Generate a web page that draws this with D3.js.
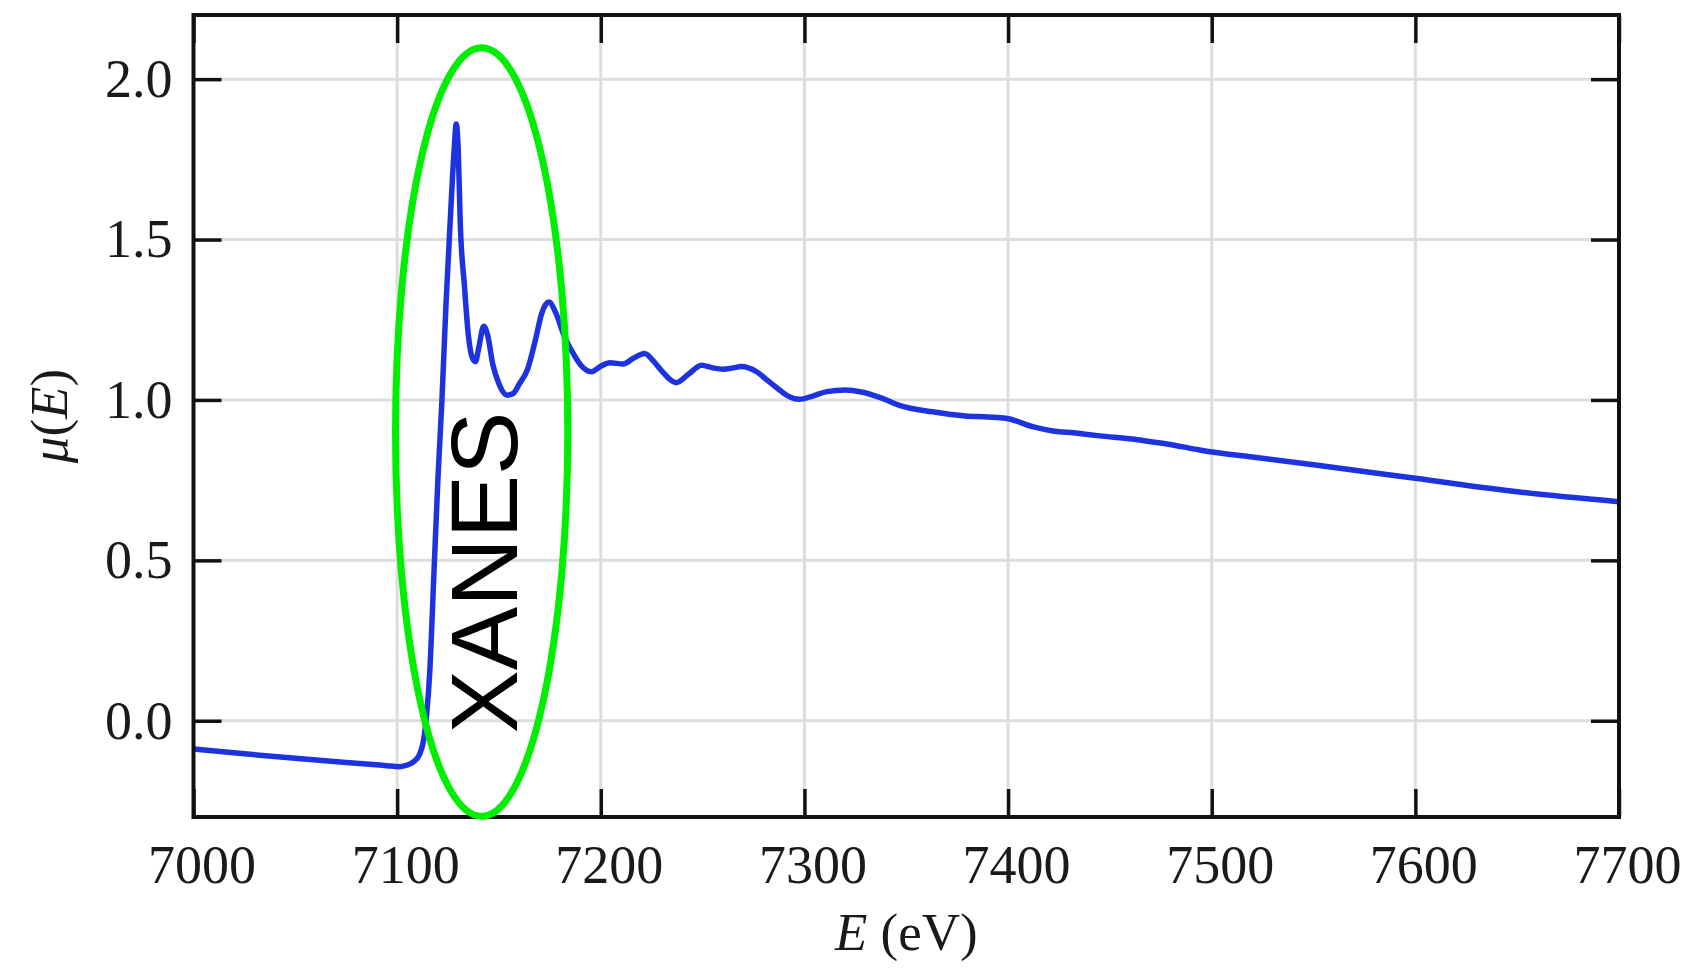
<!DOCTYPE html>
<html>
<head>
<meta charset="utf-8">
<script src="https://cdn.jsdelivr.net/npm/d3@7"></script>
<style>
  body { margin: 0; background: #fff; }
  svg { display: block; }
</style>
</head>
<body>
<div id="chart"></div>
<script>
'use strict';

// spectrum: energy (eV) and absorption mu(E)
const energy = [7000, 7025, 7050, 7075, 7095, 7101, 7105, 7108, 7111, 7113, 7114.5, 7116, 7118, 7120, 7122, 7124, 7126, 7128, 7129, 7130, 7131, 7133, 7135, 7137, 7138.5, 7140, 7142.5, 7144.5, 7147, 7150, 7154, 7157, 7160, 7164, 7168, 7171, 7174.5, 7178, 7182, 7186, 7190, 7195.5, 7200, 7204.5, 7211, 7216, 7221.5, 7226, 7230, 7237, 7243, 7249.5, 7255, 7260, 7265, 7269, 7276.5, 7282, 7287, 7292, 7297.5, 7304, 7311, 7320, 7328, 7337, 7347, 7363, 7379, 7390, 7399, 7412, 7425, 7432, 7437, 7445, 7461, 7470, 7478, 7494, 7502, 7519, 7551, 7600, 7650, 7700];
const mu = [-0.088, -0.103, -0.117, -0.130, -0.140, -0.143, -0.138, -0.128, -0.105, -0.060, 0.020, 0.150, 0.450, 0.750, 1.000, 1.300, 1.550, 1.780, 1.860, 1.780, 1.550, 1.360, 1.200, 1.130, 1.120, 1.160, 1.230, 1.200, 1.110, 1.050, 1.015, 1.020, 1.050, 1.095, 1.190, 1.270, 1.305, 1.270, 1.200, 1.150, 1.110, 1.088, 1.105, 1.116, 1.112, 1.130, 1.145, 1.120, 1.090, 1.054, 1.080, 1.108, 1.100, 1.096, 1.100, 1.104, 1.088, 1.060, 1.035, 1.012, 1.002, 1.012, 1.026, 1.031, 1.025, 1.008, 0.982, 0.963, 0.950, 0.947, 0.943, 0.917, 0.901, 0.898, 0.894, 0.888, 0.878, 0.870, 0.863, 0.844, 0.836, 0.823, 0.797, 0.756, 0.714, 0.683];

const xTicks = [7000, 7100, 7200, 7300, 7400, 7500, 7600, 7700];
const yTicks = [0.0, 0.5, 1.0, 1.5, 2.0];

// the highlighted region (centre, half-width in eV, half-height in mu)
const regionLabel = 'XANES';
const regionCentre = [7141.5, 0.90];
const regionRadius = [42.3, 1.198];

const WIDTH = 1693, HEIGHT = 969;
const margin = {top: 15, right: 74, bottom: 152, left: 193.5};
const width = WIDTH - margin.left - margin.right,
      height = HEIGHT - margin.top - margin.bottom;

const x = d3.scaleLinear().domain([7000, 7700]).range([0, width]);
const y = d3.scaleLinear().domain([-0.3, 2.2]).range([height, 0]);

const svg = d3.select('#chart').append('svg')
    .attr('width', WIDTH)
    .attr('height', HEIGHT);

const g = svg.append('g')
    .attr('transform', 'translate(' + margin.left + ',' + margin.top + ')');

// grid
g.append('g')
    .selectAll('line')
    .data(xTicks.filter(d => d > 7000 && d < 7700))
    .join('line')
    .attr('x1', d => x(d)).attr('x2', d => x(d))
    .attr('y1', 0).attr('y2', height)
    .attr('stroke', '#dddddd').attr('stroke-width', 3);

g.append('g')
    .selectAll('line')
    .data(yTicks)
    .join('line')
    .attr('x1', 0).attr('x2', width)
    .attr('y1', d => y(d)).attr('y2', d => y(d))
    .attr('stroke', '#dddddd').attr('stroke-width', 3);

// axes, ticks pointing inwards on all four sides
const TICK = 28;
function styleAxis(sel) {
    sel.select('.domain').remove();
    sel.selectAll('.tick line').attr('stroke', '#111').attr('stroke-width', 3.5);
    sel.selectAll('.tick text')
        .attr('fill', '#1a1a1a')
        .style('font-family', '"Liberation Serif", "Times New Roman", serif')
        .style('font-size', '54px');
}

g.append('g')
    .attr('transform', 'translate(0,' + height + ')')
    .call(d3.axisBottom(x).tickValues(xTicks).tickSize(-TICK).tickPadding(28).tickFormat(d3.format('d')))
    .call(styleAxis)
    .call(a => a.selectAll('.tick text').attr('dx', 8));

g.append('g')
    .call(d3.axisTop(x).tickValues(xTicks).tickSize(-TICK).tickFormat(''))
    .call(styleAxis);

g.append('g')
    .call(d3.axisLeft(y).tickValues(yTicks).tickSize(-TICK).tickPadding(21).tickFormat(d3.format('.1f')))
    .call(styleAxis);

g.append('g')
    .attr('transform', 'translate(' + width + ',0)')
    .call(d3.axisRight(y).tickValues(yTicks).tickSize(-TICK).tickFormat(''))
    .call(styleAxis);

// the spectrum
const line = d3.line()
    .x(d => x(d[0]))
    .y(d => y(d[1]))
    .curve(d3.curveMonotoneX);

g.append('path')
    .datum(energy.map((e, i) => [e, mu[i]]))
    .attr('fill', 'none')
    .attr('stroke', '#1d33e0')
    .attr('stroke-width', 5.5)
    .attr('stroke-linejoin', 'round')
    .attr('d', line);

// frame
g.append('rect')
    .attr('width', width).attr('height', height)
    .attr('fill', 'none')
    .attr('stroke', '#111')
    .attr('stroke-width', 4);

// XANES annotation
const cx = x(regionCentre[0]), cy = y(regionCentre[1]);
g.append('ellipse')
    .attr('cx', cx).attr('cy', cy)
    .attr('rx', x(regionCentre[0] + regionRadius[0]) - cx)
    .attr('ry', cy - y(regionCentre[1] + regionRadius[1]))
    .attr('fill', 'none')
    .attr('stroke', '#00ee00')
    .attr('stroke-width', 7);

g.append('text')
    .attr('transform', 'translate(' + x(7159) + ',' + y(-0.04) + ') rotate(-90)')
    .attr('text-anchor', 'start')
    .style('font-family', '"Liberation Sans", Arial, sans-serif')
    .style('font-size', '95px')
    .attr('fill', '#000')
    .text(regionLabel);

// axis titles
const serif = '"Liberation Serif", "Times New Roman", serif';
const xt = svg.append('text')
    .attr('x', margin.left + width / 2)
    .attr('y', 950)
    .attr('text-anchor', 'middle')
    .attr('fill', '#1a1a1a')
    .style('font-family', serif)
    .style('font-size', '53px');
xt.append('tspan').style('font-style', 'italic').text('E');
xt.append('tspan').text(' (eV)');

const yt = svg.append('text')
    .attr('transform', 'translate(67,' + (margin.top + height / 2) + ') rotate(-90)')
    .attr('text-anchor', 'middle')
    .attr('fill', '#1a1a1a')
    .style('font-family', serif)
    .style('font-size', '53px');
yt.append('tspan').style('font-style', 'italic').text('μ');
yt.append('tspan').text('(');
yt.append('tspan').style('font-style', 'italic').text('E');
yt.append('tspan').text(')');
</script>
</body>
</html>
